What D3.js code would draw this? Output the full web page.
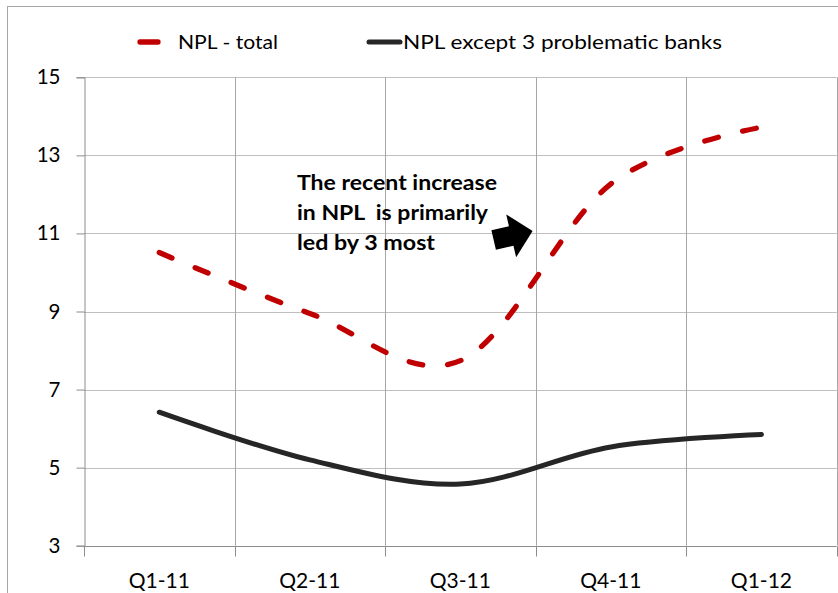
<!DOCTYPE html>
<html>
<head>
<meta charset="utf-8">
<script src="https://cdnjs.cloudflare.com/ajax/libs/d3/7.8.5/d3.min.js"></script>
<style>
  html, body { margin: 0; padding: 0; background: #fff; }
  svg { display: block; font-family: Lato, "Open Sans", sans-serif; }
</style>
</head>
<body>
<svg id="chart" width="838" height="593"></svg>
<script>
// Quarterly non-performing loan ratios (%)
const categories = ["Q1-11", "Q2-11", "Q3-11", "Q4-11", "Q1-12"];
const nplTotal = [10.51, 8.95, 7.74, 12.27, 13.72];
const nplExcept3 = [6.42, 5.2, 4.58, 5.53, 5.85];
const yTicks = [3, 5, 7, 9, 11, 13, 15];
const seriesNames = ["NPL - total", "NPL except 3 problematic banks"];
const noteLines = ["The recent increase", "in NPL  is primarily", "led by 3 most"];

const svg = d3.select("#chart");
const W = 838, H = 593;
const plot = { left: 84, right: 836.7, top: 77.3, bottom: 545.7 };

const x = d3.scaleBand().domain(categories).range([plot.left, plot.right]).padding(0);
const y = d3.scaleLinear().domain([3, 15]).range([plot.bottom, plot.top]);
const cx = c => x(c) + x.bandwidth() / 2;

// outer chart frame (top and left edges visible)
svg.append("rect")
  .attr("x", 7.5).attr("y", 6.5).attr("width", W + 20).attr("height", H + 20)
  .attr("fill", "none").attr("stroke", "#a6a6a6").attr("stroke-width", 1);

// horizontal gridlines
svg.append("g").selectAll("line").data(yTicks.filter(v => v !== 3)).join("line")
  .attr("x1", plot.left).attr("x2", plot.right)
  .attr("y1", d => Math.round(y(d)) + 0.5).attr("y2", d => Math.round(y(d)) + 0.5)
  .attr("stroke", "#bfbfbf").attr("stroke-width", 1.2);

// vertical gridlines at category boundaries
const bounds = categories.map(c => x(c)).concat([plot.right]);
svg.append("g").selectAll("line").data(bounds.slice(1)).join("line")
  .attr("x1", d => Math.round(d) + 0.5).attr("x2", d => Math.round(d) + 0.5)
  .attr("y1", plot.top).attr("y2", plot.bottom)
  .attr("stroke", "#a6a6a6").attr("stroke-width", 1);

// y axis
const yAxis = svg.append("g")
  .attr("transform", `translate(${plot.left + 0.5},0)`)
  .call(d3.axisLeft(y).tickValues(yTicks).tickSize(8).tickPadding(16).tickFormat(d3.format("d")));
yAxis.select(".domain").attr("stroke", "#8c8c8c");
yAxis.selectAll(".tick line").attr("stroke", "#8c8c8c");
yAxis.selectAll("text").attr("font-size", 20.5).attr("fill", "#000")
  .attr("font-family", "Lato, sans-serif");

// x axis
const xAxis = svg.append("g")
  .attr("transform", `translate(0,${Math.round(plot.bottom) + 0.5})`);
xAxis.append("line")
  .attr("x1", plot.left).attr("x2", plot.right)
  .attr("stroke", "#8c8c8c");
xAxis.selectAll("line.tk").data(bounds).join("line").attr("class", "tk")
  .attr("x1", d => Math.round(d) + 0.5).attr("x2", d => Math.round(d) + 0.5)
  .attr("y1", 0).attr("y2", 10).attr("stroke", "#8c8c8c");
xAxis.selectAll("text").data(categories).join("text")
  .attr("x", d => cx(d)).attr("y", 41)
  .attr("text-anchor", "middle").attr("font-size", 21).attr("fill", "#000")
  .text(d => d);

// smoothed series lines
const line = d3.line().x((d, i) => cx(categories[i])).y(d => y(d)).curve(d3.curveCardinal.tension(0));

svg.append("path").datum(nplExcept3)
  .attr("d", line).attr("fill", "none")
  .attr("stroke", "#262626").attr("stroke-width", 5).attr("stroke-linecap", "round");

svg.append("path").datum(nplTotal)
  .attr("d", line).attr("fill", "none")
  .attr("stroke", "#c00000").attr("stroke-width", 5.3)
  .attr("stroke-linecap", "round").attr("stroke-dasharray", "14,25");

// legend
const lg = svg.append("g");
lg.append("line").attr("x1", 140).attr("x2", 158).attr("y1", 42).attr("y2", 42)
  .attr("stroke", "#c00000").attr("stroke-width", 5.3).attr("stroke-linecap", "round");
lg.append("text").attr("x", 178).attr("y", 49).attr("font-size", 20)
  .attr("textLength", 100).attr("lengthAdjust", "spacingAndGlyphs").text(seriesNames[0]);
lg.append("line").attr("x1", 369).attr("x2", 400).attr("y1", 42).attr("y2", 42)
  .attr("stroke", "#262626").attr("stroke-width", 5).attr("stroke-linecap", "round");
lg.append("text").attr("x", 403).attr("y", 49).attr("font-size", 20)
  .attr("textLength", 319).attr("lengthAdjust", "spacingAndGlyphs").text(seriesNames[1]);

// annotation text
const noteWidths = [200, 191, 138];
svg.append("g").selectAll("text").data(noteLines).join("text")
  .attr("x", 297).attr("y", (d, i) => 190 + i * 30)
  .attr("font-size", 20).attr("font-weight", "bold").attr("fill", "#000")
  .attr("textLength", (d, i) => noteWidths[i]).attr("lengthAdjust", "spacingAndGlyphs")
  .style("white-space", "pre")
  .text(d => d);

// block arrow pointing at the turn of the total NPL curve
const tipX = x("Q4-11") - 3, tipY = y(11) - 2.5;
const arrowShape = [[0, 0], [-22, -22], [-22, -10], [-40, -10], [-40, 10], [-22, 10], [-22, 22]];
svg.append("polygon")
  .attr("points", arrowShape.map(p => p.join(",")).join(" "))
  .attr("transform", `translate(${tipX},${tipY}) rotate(-13)`)
  .attr("fill", "#000");
</script>
</body>
</html>
